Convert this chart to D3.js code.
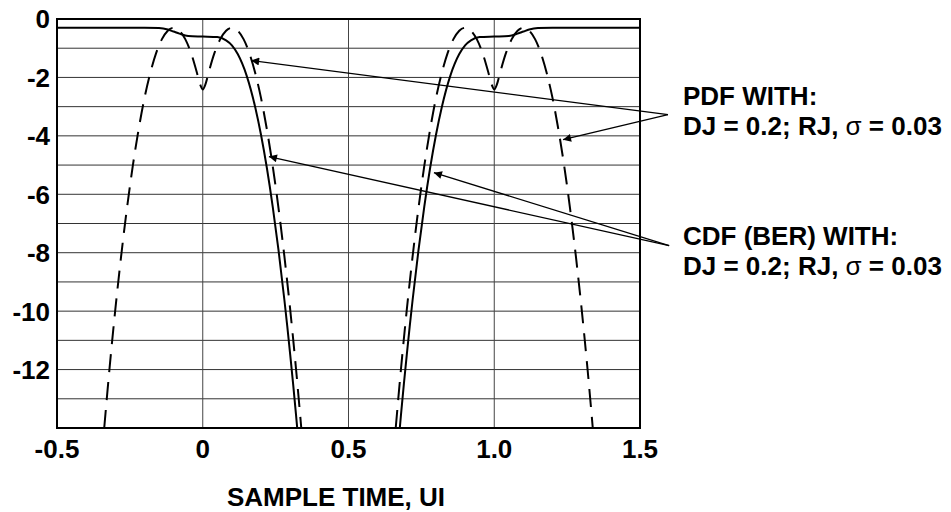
<!DOCTYPE html>
<html>
<head>
<meta charset="utf-8">
<script src="https://cdn.jsdelivr.net/npm/d3@7"></script>
<style>
  body { margin: 0; background: #fff; }
  text { font-family: "Liberation Sans", Arial, sans-serif; font-weight: bold; fill: #000; }
</style>
</head>
<body>
<div id="chart"></div>
<script>
// values (log10 scale, sample time in UI)
var pdfTimeA = [-0.338, -0.32, -0.30, -0.28, -0.26, -0.24, -0.22, -0.20, -0.18, -0.16, -0.14, -0.12, -0.10, -0.08, -0.06, -0.04, -0.02, -0.01, 0, 0.01, 0.02, 0.04, 0.06, 0.08, 0.10, 0.12, 0.14, 0.16, 0.18, 0.20, 0.22, 0.24, 0.26, 0.28, 0.30, 0.32, 0.338]
var pdfLogA  = [-14.0, -11.98, -9.95, -8.12, -6.48, -5.03, -3.78, -2.71, -1.85, -1.17, -0.69, -0.40, -0.30, -0.40, -0.69, -1.17, -1.84, -2.21, -2.41, -2.21, -1.84, -1.17, -0.69, -0.40, -0.30, -0.40, -0.69, -1.17, -1.85, -2.71, -3.78, -5.03, -6.48, -8.12, -9.95, -11.98, -14.0]
var pdfTimeB = [0.662, 0.68, 0.70, 0.72, 0.74, 0.76, 0.78, 0.80, 0.82, 0.84, 0.86, 0.88, 0.90, 0.92, 0.94, 0.96, 0.98, 0.99, 1.0, 1.01, 1.02, 1.04, 1.06, 1.08, 1.10, 1.12, 1.14, 1.16, 1.18, 1.20, 1.22, 1.24, 1.26, 1.28, 1.30, 1.32, 1.338]
var pdfLogB  = [-14.0, -11.98, -9.95, -8.12, -6.48, -5.03, -3.78, -2.71, -1.85, -1.17, -0.69, -0.40, -0.30, -0.40, -0.69, -1.17, -1.84, -2.21, -2.41, -2.21, -1.84, -1.17, -0.69, -0.40, -0.30, -0.40, -0.69, -1.17, -1.85, -2.71, -3.78, -5.03, -6.48, -8.12, -9.95, -11.98, -14.0]

var cdfTimeA = [-0.5, -0.2, -0.15, -0.12, -0.10, -0.08, -0.05, 0, 0.05, 0.08, 0.10, 0.12, 0.15, 0.18, 0.20, 0.22, 0.24, 0.26, 0.28, 0.29, 0.30, 0.31, 0.32, 0.324]
var cdfLogA  = [-0.30, -0.30, -0.31, -0.36, -0.43, -0.50, -0.58, -0.60, -0.62, -0.73, -0.90, -1.20, -1.92, -3.02, -3.97, -5.10, -6.42, -7.92, -9.61, -10.52, -11.49, -12.49, -13.55, -14.0]
var cdfTimeB = [0.676, 0.68, 0.69, 0.70, 0.71, 0.72, 0.74, 0.76, 0.78, 0.80, 0.82, 0.85, 0.88, 0.90, 0.92, 0.95, 1.0, 1.05, 1.08, 1.10, 1.12, 1.15, 1.2, 1.5]
var cdfLogB  = [-14.0, -13.55, -12.49, -11.49, -10.52, -9.61, -7.92, -6.42, -5.10, -3.97, -3.02, -1.92, -1.20, -0.90, -0.73, -0.62, -0.60, -0.58, -0.50, -0.43, -0.36, -0.31, -0.30, -0.30]

var xTicks = [-0.5, 0, 0.5, 1.0, 1.5]
var xTickLabels = ["-0.5", "0", "0.5", "1.0", "1.5"]
var xGrid = [0, 0.5, 1.0]
var yTicks = [0, -2, -4, -6, -8, -10, -12]
var yGrid = [-1, -2, -3, -4, -5, -6, -7, -8, -9, -10, -11, -12, -13]

// annotation arrows: [fromT, fromLog, toT, toLog]
var pdfArrows = [[1.596, -3.27, 0.166, -1.42], [1.596, -3.27, 1.236, -4.13]]
var cdfArrows = [[1.60, -7.76, 0.227, -4.71], [1.60, -7.76, 0.793, -5.26]]

var W = 951, H = 512
var padL = 57, padR = 640, padT = 19, padB = 428

var svg = d3.select("#chart").append("svg").attr("width", W).attr("height", H)

var x = d3.scaleLinear().domain([-0.5, 1.5]).range([padL, padR])
var y = d3.scaleLinear().domain([0, -14]).range([padT, padB])

svg.append("defs").append("marker")
	.attr("id", "arr").attr("viewBox", "0 0 10 10")
	.attr("refX", 10).attr("refY", 5)
	.attr("markerWidth", 14).attr("markerHeight", 8)
	.attr("markerUnits", "userSpaceOnUse")
	.attr("orient", "auto")
	.append("path").attr("d", "M0,0 L10,5 L0,10 Z").attr("fill", "#000")

// grid
svg.append("g").selectAll("line").data(yGrid).join("line")
	.attr("x1", padL).attr("x2", padR)
	.attr("y1", d => y(d)).attr("y2", d => y(d))
	.attr("stroke", "#333").attr("stroke-width", 1)
svg.append("g").selectAll("line").data(xGrid).join("line")
	.attr("x1", d => x(d)).attr("x2", d => x(d))
	.attr("y1", padT).attr("y2", padB)
	.attr("stroke", "#444").attr("stroke-width", 1)

// curves
var line = d3.line().x(d => x(d[0])).y(d => y(d[1])).curve(d3.curveMonotoneX)
function pts(t, v){ return t.map((d, i) => [d, v[i]]) }

svg.append("g").selectAll("path").data([pts(pdfTimeA, pdfLogA), pts(pdfTimeB, pdfLogB)]).join("path")
	.attr("d", line).attr("fill", "none").attr("stroke", "#000")
	.attr("stroke-width", 2).attr("stroke-dasharray", "18,10")
svg.append("g").selectAll("path").data([pts(cdfTimeA, cdfLogA), pts(cdfTimeB, cdfLogB)]).join("path")
	.attr("d", line).attr("fill", "none").attr("stroke", "#000")
	.attr("stroke-width", 2)

// frame
svg.append("rect").attr("x", padL).attr("y", padT)
	.attr("width", padR - padL).attr("height", padB - padT)
	.attr("fill", "none").attr("stroke", "#000").attr("stroke-width", 2)

// arrows
svg.append("g").selectAll("line").data(pdfArrows.concat(cdfArrows)).join("line")
	.attr("x1", d => x(d[0])).attr("y1", d => y(d[1]))
	.attr("x2", d => x(d[2])).attr("y2", d => y(d[3]))
	.attr("stroke", "#000").attr("stroke-width", 1.3)
	.attr("marker-end", "url(#arr)")

// tick labels
svg.append("g").selectAll("text").data(xTicks).join("text")
	.attr("x", d => x(d)).attr("y", 458)
	.attr("text-anchor", "middle").style("font-size", "26px")
	.text((d, i) => xTickLabels[i])
svg.append("g").selectAll("text").data(yTicks).join("text")
	.attr("x", 50).attr("y", d => y(d))
	.attr("dy", "0.36em")
	.attr("text-anchor", "end").style("font-size", "26px")
	.text(d => d)

svg.append("text").attr("x", 336).attr("y", 506)
	.attr("text-anchor", "middle").style("font-size", "26px")
	.text("SAMPLE TIME, UI")

function label(x0, y0, first){
	var t = svg.append("text").attr("x", x0).attr("y", y0).style("font-size", "26px")
	t.append("tspan").attr("x", x0).text(first)
	var l2 = t.append("tspan").attr("x", x0).attr("dy", 30)
	l2.append("tspan").text("DJ = 0.2; RJ, ")
	l2.append("tspan").style("font-weight", "normal").text("\u03c3")
	l2.append("tspan").text(" = 0.03")
}
label(683, 105, "PDF WITH:")
label(683, 245, "CDF (BER) WITH:")
</script>
</body>
</html>
